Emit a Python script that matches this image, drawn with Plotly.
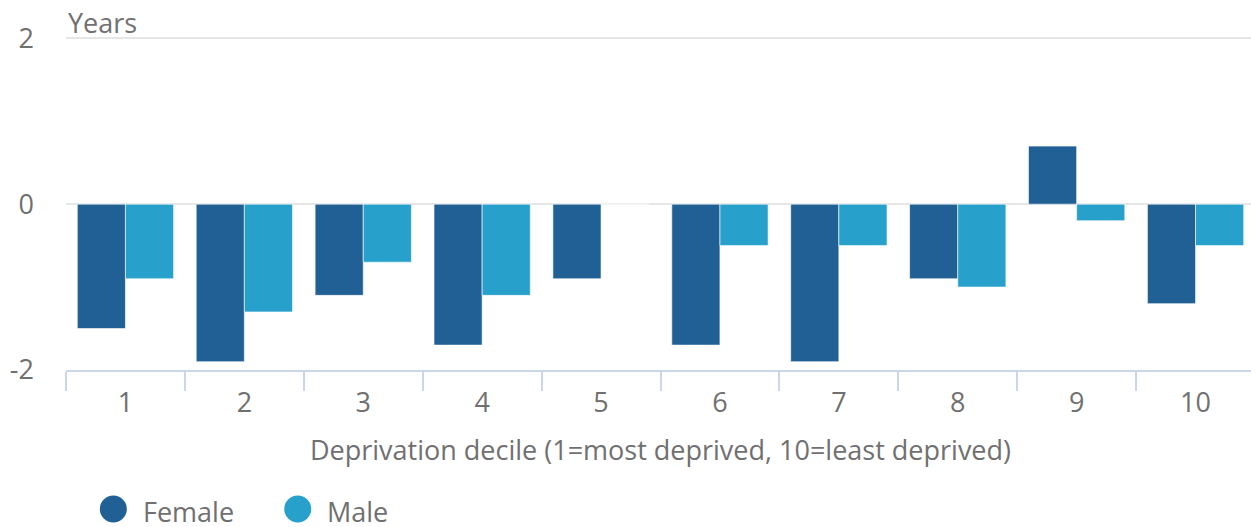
import plotly.graph_objects as go

DECILES = ["1", "2", "3", "4", "5", "6", "7", "8", "9", "10"]
FEMALE = [-1.5, -1.9, -1.1, -1.7, -0.9, -1.7, -1.9, -0.9, 0.7, -1.2]
MALE = [-0.9, -1.3, -0.7, -1.1, 0.0, -0.5, -0.5, -1.0, -0.2, -0.5]
SERIES = ["Female", "Male"]

COLORS = {"Female": "#206095", "Male": "#27a0cc"}
TEXT = "#707070"
FONT = "Open Sans, Noto Sans, sans-serif"
FS = 27

fig = go.Figure()
for name, vals in zip(SERIES, [FEMALE, MALE]):
    fig.add_trace(go.Bar(
        x=DECILES, y=vals, name=name, showlegend=False,
        marker={"color": COLORS[name], "line": {"color": "rgba(255,255,255,0.6)", "width": 1}},
    ))

# legend drawn by hand so the circles can be as big as the original
DOT_Y, LABEL_Y = -0.4088, -0.4150
legend_shapes, legend_notes = [], []
for (name, cx, tx) in [("Female", 0.0398, 0.0631), ("Male", 0.1949, 0.2178)]:
    legend_shapes.append({
        "type": "circle", "xref": "paper", "yref": "paper",
        "xsizemode": "pixel", "ysizemode": "pixel", "xanchor": cx, "yanchor": DOT_Y,
        "x0": -13.5, "x1": 13.5, "y0": -13.5, "y1": 13.5,
        "fillcolor": COLORS[name], "line": {"width": 0},
    })
    legend_notes.append({
        "text": name, "xref": "paper", "yref": "paper", "x": tx, "y": LABEL_Y,
        "xanchor": "left", "yanchor": "middle", "showarrow": False,
        "font": {"size": FS, "color": TEXT},
    })

fig.update_layout(
    width=1255, height=527,
    template="plotly_white",
    plot_bgcolor="white", paper_bgcolor="white",
    barmode="group", bargap=0.19, bargroupgap=0,
    margin={"l": 66, "r": 0, "t": 30, "b": 157, "autoexpand": False},
    font={"family": FONT, "size": FS, "color": TEXT},
    showlegend=False,
    shapes=legend_shapes,
    annotations=[{"text": "Years", "xref": "paper", "yref": "paper", "x": 0, "y": 1.0235,
                  "xanchor": "left", "yanchor": "middle", "showarrow": False,
                  "font": {"size": FS, "color": TEXT}}] + legend_notes,
)
fig.update_yaxes(
    range=[-2, 2.1], tickvals=[-2, 0, 2], ticktext=["-2", "0", "2"],
    showgrid=True, gridcolor="#e6e6e6", gridwidth=2, zeroline=False,
    showline=False, ticks="", ticklabelstandoff=31, automargin=False,
    tickfont={"size": FS, "color": TEXT},
)
fig.update_xaxes(
    type="category", showline=True, linecolor="#ccd6eb", linewidth=2,
    ticks="outside", tickson="boundaries", ticklen=19, tickcolor="#ccd6eb", tickwidth=2,
    ticklabelstandoff=8,
    showgrid=False, automargin=False, tickfont={"size": FS, "color": TEXT},
    title={"text": "Deprivation decile (1=most deprived, 10=least deprived)",
           "font": {"size": FS, "color": TEXT}, "standoff": 22},
)
# drop the default page margin so the chart sits flush with the window
fig.write_html(
    "out.html",
    config={"displayModeBar": False},
    post_script="document.body.style.margin='0';document.body.style.overflow='hidden';",
)
